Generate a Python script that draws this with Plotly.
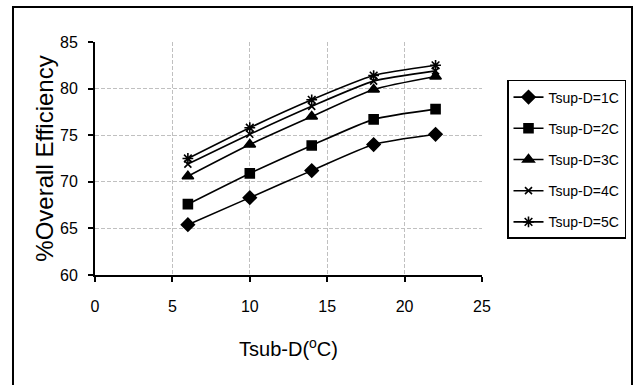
import plotly.graph_objects as go

x_vals = [6, 10, 14, 18, 22]
series_names = ["Tsup-D=1C", "Tsup-D=2C", "Tsup-D=3C", "Tsup-D=4C", "Tsup-D=5C"]
eff_1c = [65.4, 68.3, 71.2, 74.0, 75.1]
eff_2c = [67.6, 70.9, 73.9, 76.7, 77.8]
eff_3c = [70.6, 74.0, 77.0, 79.9, 81.3]
eff_4c = [71.9, 75.1, 78.1, 80.8, 81.9]
eff_5c = [72.5, 75.8, 78.8, 81.4, 82.5]
x_ticks = [0, 5, 10, 15, 20, 25]
y_ticks = [60, 65, 70, 75, 80, 85]

series_values = [eff_1c, eff_2c, eff_3c, eff_4c, eff_5c]
symbols = ["diamond", "square", "triangle-up", "x-thin-open", "asterisk-open"]
sizes = [10, 9, 10, 7, 9]

FONT = "Liberation Sans, Arial, sans-serif"

fig = go.Figure()
for i, (name, vals) in enumerate(zip(series_names, series_values)):
    fig.add_trace(go.Scatter(
        x=x_vals, y=vals, name=name, mode="lines+markers",
        legendgroup=name,
        line=dict(color="black", width=1.6, shape="spline", smoothing=0.6),
        marker=dict(symbol=symbols[i], size=sizes[i], color="black",
                    line=dict(color="black", width=1.6)),
    ))

fig.update_layout(
    width=638, height=385,
    margin=dict(l=95, r=156, t=42, b=110),
    paper_bgcolor="white", plot_bgcolor="white",
    font=dict(family=FONT, color="black"),
    showlegend=True,
    legend=dict(
        x=1.0646, y=0.837, xanchor="left", yanchor="top",
        bordercolor="black", borderwidth=1.5, bgcolor="white",
        font=dict(size=14, family=FONT, color="black"),
        tracegroupgap=10,
    ),
    xaxis=dict(
        range=[0, 25], tickvals=x_ticks, ticktext=[str(v) for v in x_ticks],
        showline=True, linecolor="black", linewidth=2,
        ticks="outside", ticklen=5, tickcolor="black", tickwidth=1.5,
        ticklabelstandoff=11,
        showgrid=True, gridcolor="#c0c0c0", griddash="4px,2px", gridwidth=1,
        zeroline=False,
        tickfont=dict(size=16, family=FONT),
        title=dict(text="Tsub-D(<sup>o</sup>C)", font=dict(size=20, family=FONT), standoff=28),
    ),
    yaxis=dict(
        range=[60, 85], tickvals=y_ticks, ticktext=[str(v) for v in y_ticks],
        showline=True, linecolor="black", linewidth=2,
        ticks="outside", ticklen=5, tickcolor="black", tickwidth=1.5,
        ticklabelstandoff=7,
        showgrid=True, gridcolor="#c0c0c0", griddash="4px,2px", gridwidth=1,
        zeroline=False,
        tickfont=dict(size=16, family=FONT),
        title=dict(text="%Overall Efficiency", font=dict(size=24, family=FONT), standoff=0),
    ),
    shapes=[
        dict(type="path", xref="paper", yref="paper",
             path="M -0.2119,-0.6 L -0.2119,1.1502 L 1.3876,1.1502 L 1.3876,-0.6",
             line=dict(color="black", width=2), layer="above"),
    ],
)

fig.write_html("out.html", config={"displayModeBar": False},
               post_script="document.body.style.margin='0';")
